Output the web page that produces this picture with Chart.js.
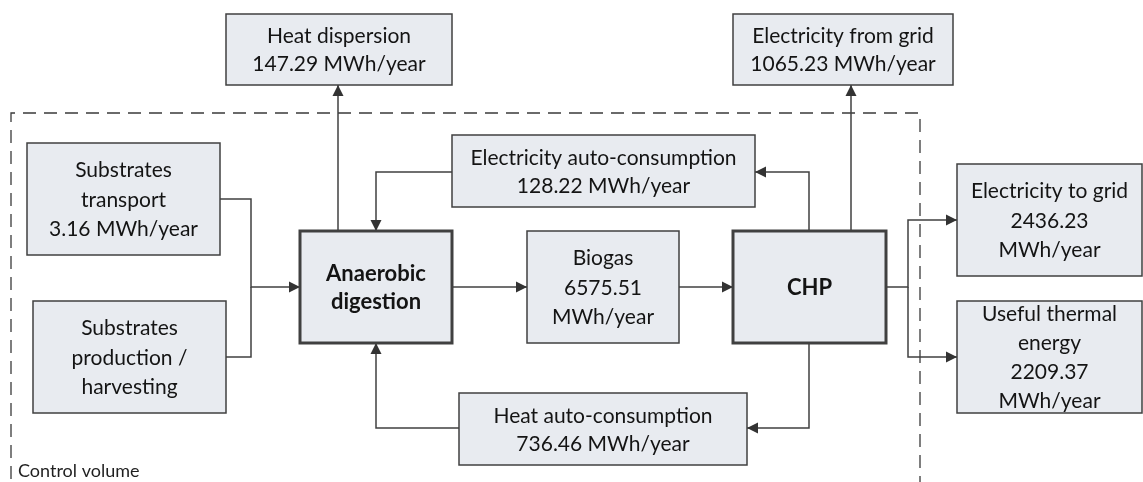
<!DOCTYPE html>
<html>
<head>
<meta charset="utf-8">
<script src="https://cdn.jsdelivr.net/npm/chart.js@4/dist/chart.umd.min.js"></script>
<style>
  html, body { margin: 0; padding: 0; background: #ffffff; }
  #wrap { width: 1143px; height: 482px; position: relative; }
</style>
</head>
<body>
<div id="wrap"><canvas id="c"></canvas></div>
<script>
// ---- DATA ----
const nodeIds = ["heatDisp", "elecFromGrid", "subTransport", "subProduction", "anaerobic", "elecAuto", "biogas", "chp", "elecToGrid", "thermal", "heatAuto"];
const nodeNames = ["Heat dispersion", "Electricity from grid", "Substrates transport", "Substrates production / harvesting", "Anaerobic digestion", "Electricity auto-consumption", "Biogas", "CHP", "Electricity to grid", "Useful thermal energy", "Heat auto-consumption"];
const nodeValues = [147.29, 1065.23, 3.16, null, null, 128.22, 6575.51, null, 2436.23, 2209.37, 736.46];
const unitLabel = "MWh/year";
const boundaryLabel = "Control volume";
const flowFrom = ["subTransport", "subProduction", "anaerobic", "biogas", "anaerobic", "chp", "chp", "chp", "chp", "elecAuto", "heatAuto"];
const flowTo   = ["anaerobic", "anaerobic", "biogas", "chp", "heatDisp", "elecFromGrid", "elecAuto", "heatAuto", "elecToGrid", "anaerobic", "anaerobic"];

// ---- LAYOUT (diagram units = pixels of a 1143x482 sheet) ----
const layout = {
  heatDisp:      { r: [226, 14, 452, 85],   lines: (n, v) => [n, v + " " + unitLabel] },
  elecFromGrid:  { r: [733, 14, 953, 85],   lines: (n, v) => [n, v + " " + unitLabel] },
  subTransport:  { r: [27, 143, 220, 255],  lines: (n, v) => ["Substrates", "transport", v + " " + unitLabel] },
  subProduction: { r: [33, 301, 226, 413],  lines: (n, v) => ["Substrates", "production /", "harvesting"] },
  anaerobic:     { r: [300, 231, 452, 343], lines: (n, v) => ["Anaerobic", "digestion"], bold: true },
  elecAuto:      { r: [452, 135, 755, 207], lines: (n, v) => [n, v + " " + unitLabel] },
  biogas:        { r: [527, 231, 679, 343], lines: (n, v) => [n, v.toFixed(2), unitLabel] },
  chp:           { r: [733, 231, 886, 343], lines: (n, v) => [n], bold: true },
  elecToGrid:    { r: [957, 164, 1142, 276], lines: (n, v) => [n, v.toFixed(2), unitLabel] },
  thermal:       { r: [957, 301, 1142, 413], lines: (n, v) => ["Useful thermal", "energy", v.toFixed(2), unitLabel] },
  heatAuto:      { r: [459, 393, 747, 465], lines: (n, v) => [n, v.toFixed(2) + " " + unitLabel] }
};
// polyline routes for each flow (index aligned with flowFrom/flowTo); last point gets the arrow head
const routes = [
  [[220, 199], [251, 199], [251, 287], [300, 287]],
  [[226, 357], [251, 357], [251, 287]],
  [[452, 287], [527, 287]],
  [[679, 287], [733, 287]],
  [[338, 231], [338, 85]],
  [[851, 231], [851, 85]],
  [[809, 231], [809, 172], [755, 172]],
  [[809, 343], [809, 428], [747, 428]],
  [[886, 287], [908, 287], [908, 220], [957, 220]],
  [[452, 172], [376, 172], [376, 231]],
  [[459, 428], [376, 428], [376, 343]]
];
const arrowOnLast = [true, false, true, true, true, true, true, true, true, true, true];
const extraRoutes = [ [[[908, 287], [908, 357], [957, 357]], true] ];
const boundary = [11, 113, 920, 500];

const FONT = "Lato, 'Open Sans', sans-serif";

const diagramPlugin = {
  id: 'diagram',
  afterDatasetsDraw(chart) {
    const ctx = chart.ctx;
    const xs = chart.scales.x, ys = chart.scales.y;
    const X = v => xs.getPixelForValue(v);
    const Y = v => ys.getPixelForValue(v);
    ctx.save();

    // boundary (dashed)
    ctx.strokeStyle = '#3a3a3a';
    ctx.lineWidth = 1.3;
    ctx.setLineDash([13, 8]);
    ctx.beginPath();
    ctx.moveTo(X(boundary[0]), Y(boundary[3]));
    ctx.lineTo(X(boundary[0]), Y(boundary[1]));
    ctx.lineTo(X(boundary[2]), Y(boundary[1]));
    ctx.lineTo(X(boundary[2]), Y(boundary[3]));
    ctx.stroke();
    ctx.setLineDash([]);

    ctx.fillStyle = '#1f1f1f';
    ctx.font = "18px " + FONT;
    ctx.textAlign = 'left';
    ctx.textBaseline = 'alphabetic';
    ctx.fillText(boundaryLabel, X(18), Y(477));

    // flows
    function drawRoute(pts, arrow) {
      ctx.strokeStyle = '#404040';
      ctx.lineWidth = 1.5;
      ctx.beginPath();
      pts.forEach((p, i) => { const px = X(p[0]) , py = Y(p[1]); if (i === 0) ctx.moveTo(px, py); else ctx.lineTo(px, py); });
      ctx.stroke();
      if (arrow) {
        const a = pts[pts.length - 2], b = pts[pts.length - 1];
        const ax = X(a[0]), ay = Y(a[1]), bx = X(b[0]), by = Y(b[1]);
        const ang = Math.atan2(by - ay, bx - ax);
        const L = 11, W = 5.5;
        ctx.fillStyle = '#333333';
        ctx.beginPath();
        ctx.moveTo(bx, by);
        ctx.lineTo(bx - L * Math.cos(ang) + W * Math.sin(ang), by - L * Math.sin(ang) - W * Math.cos(ang));
        ctx.lineTo(bx - L * Math.cos(ang) - W * Math.sin(ang), by - L * Math.sin(ang) + W * Math.cos(ang));
        ctx.closePath();
        ctx.fill();
      }
    }
    routes.forEach((r, i) => drawRoute(r, arrowOnLast[i]));
    extraRoutes.forEach(e => drawRoute(e[0], e[1]));

    // boxes
    nodeIds.forEach((id, i) => {
      const L = layout[id];
      const [x0, y0, x1, y1] = L.r;
      const px0 = X(x0), py0 = Y(y0), px1 = X(x1), py1 = Y(y1);
      ctx.fillStyle = '#e8ebf0';
      ctx.fillRect(px0, py0, px1 - px0, py1 - py0);
      ctx.strokeStyle = '#404040';
      ctx.lineWidth = L.bold ? 3 : 1.5;
      ctx.strokeRect(px0, py0, px1 - px0, py1 - py0);
      const lines = L.lines(nodeNames[i], nodeValues[i]);
      ctx.fillStyle = '#141414';
      ctx.font = (L.bold ? "bold 22px " : "21px ") + FONT;
      ctx.textAlign = 'center';
      ctx.textBaseline = 'middle';
      const lh = lines.length >= 4 ? 29 : (lines.length === 3 ? 29.5 : 28);
      const cx = (px0 + px1) / 2, cy = (py0 + py1) / 2;
      lines.forEach((t, k) => {
        ctx.fillText(t, cx, cy + (k - (lines.length - 1) / 2) * lh + 1);
      });
    });
    ctx.restore();
  }
};

new Chart(document.getElementById('c'), {
  type: 'scatter',
  data: { datasets: [{ data: [], pointRadius: 0 }] },
  options: {
    responsive: true,
    maintainAspectRatio: false,
    animation: false,
    layout: { padding: 0 },
    plugins: { legend: { display: false }, tooltip: { enabled: false } },
    scales: {
      x: { type: 'linear', min: 0, max: 1143, display: false },
      y: { type: 'linear', min: 0, max: 482, reverse: true, display: false }
    }
  },
  plugins: [diagramPlugin]
});
</script>
</body>
</html>
